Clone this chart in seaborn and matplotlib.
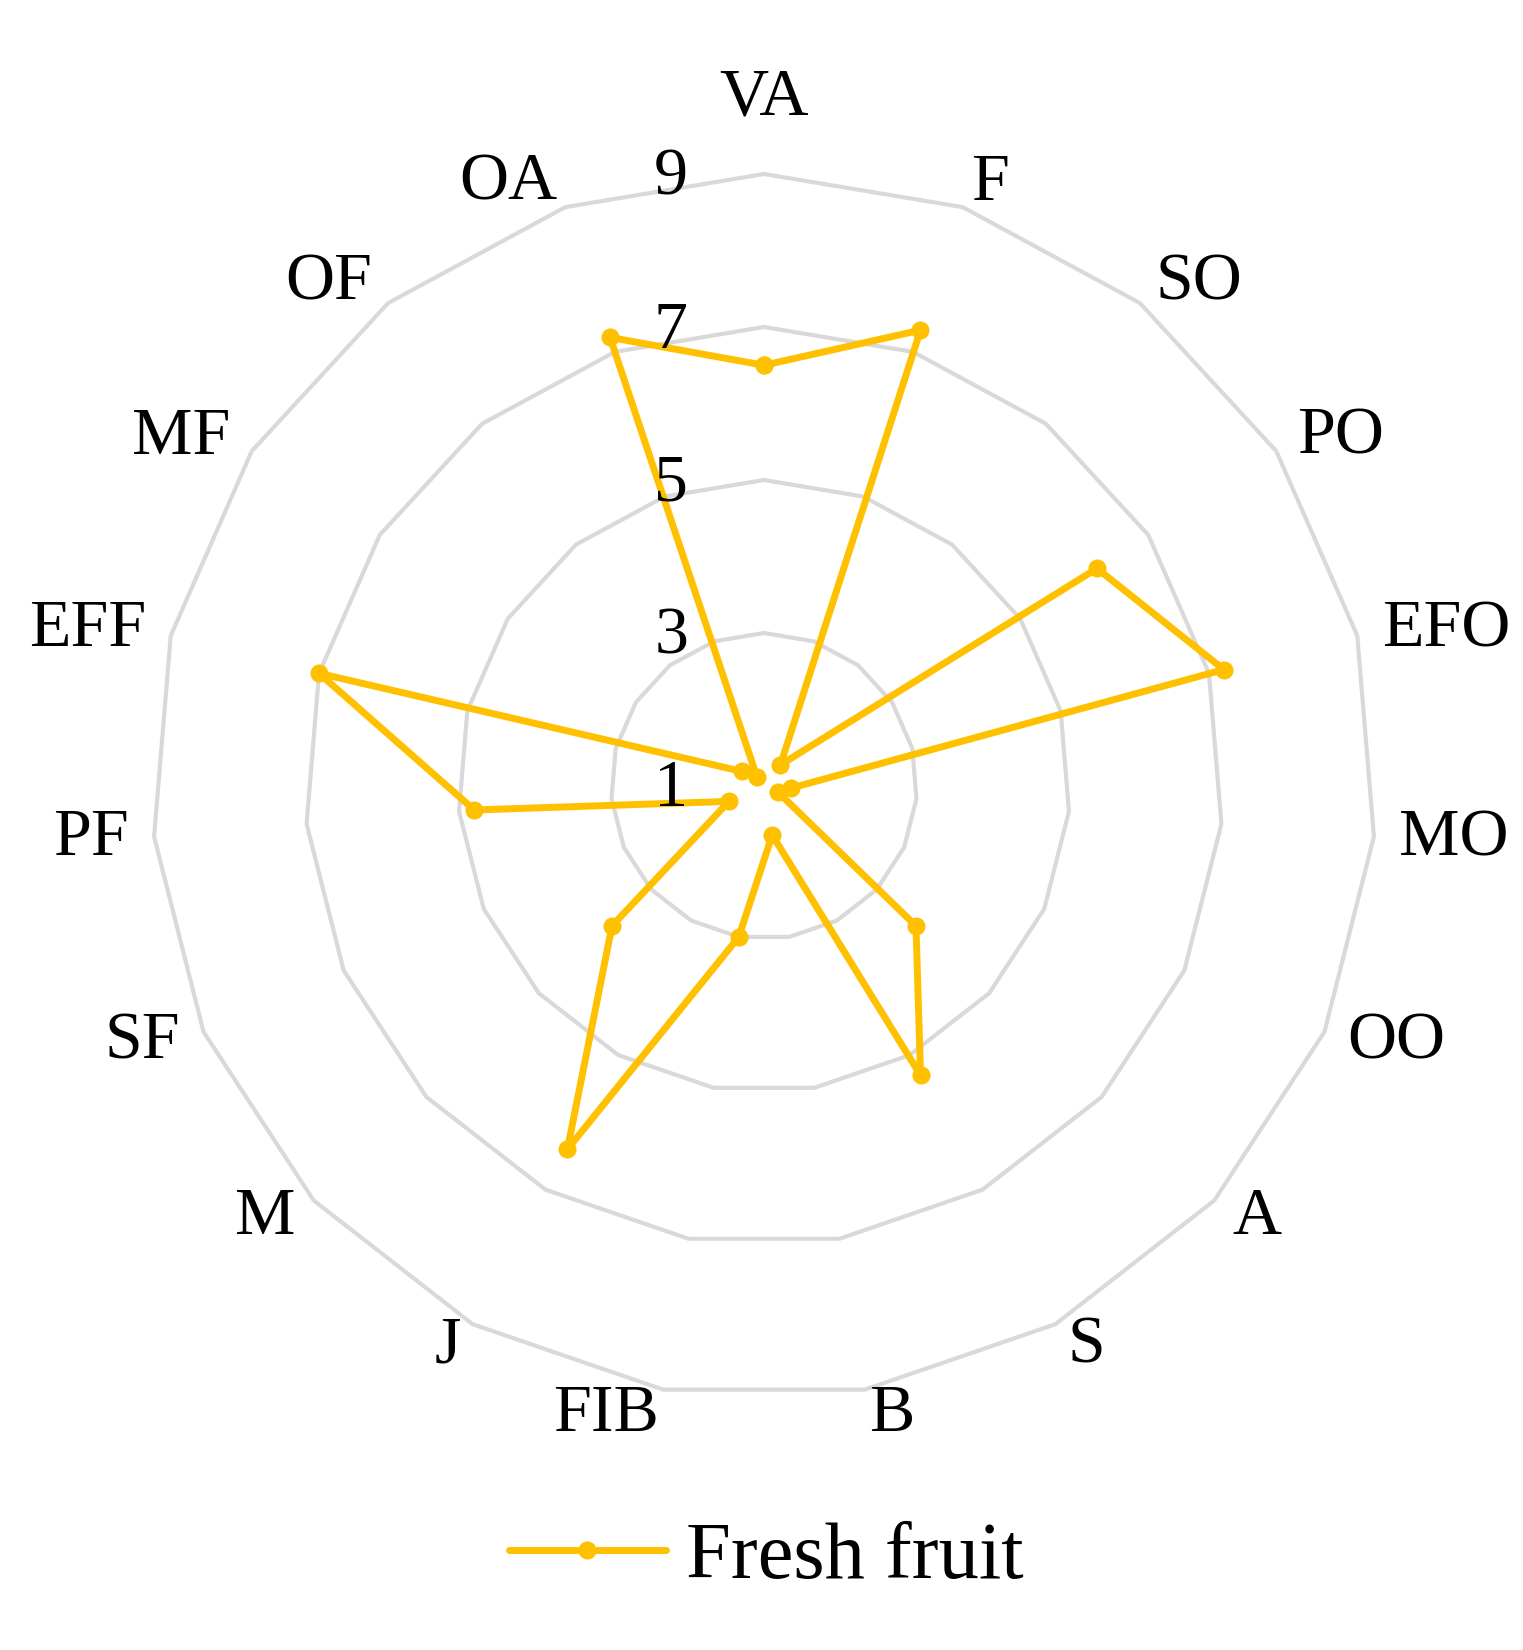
import numpy as np
import pandas as pd
import matplotlib
matplotlib.use("Agg")
import matplotlib.pyplot as plt
import matplotlib.transforms as mtransforms
from matplotlib.lines import Line2D
import seaborn as sns

categories = ["VA", "F", "SO", "PO", "EFO", "MO", "OO", "A", "S", "B",
              "FIB", "J", "M", "SF", "PF", "EFF", "MF", "OF", "OA"]
fresh_fruit = [6.5, 7.3, 1.35, 6.2, 7.2, 1.35, 1.2, 3.7, 5.3, 1.65,
               3.0, 6.4, 3.7, 1.5, 4.8, 7.0, 1.35, 1.15, 7.2]
ring_levels = [3, 5, 7, 9]
tick_labels = ["1", "3", "5", "7", "9"]
tick_values = [1, 3, 5, 7, 9]
series_name = "Fresh fruit"

sns.set_style("white")
plt.rcParams["font.family"] = ["Liberation Serif", "DejaVu Serif"]
plt.rcParams["text.color"] = "black"

W, H = 1523, 1650
fig = plt.figure(figsize=(W / 100, H / 100), dpi=100)
fig.patch.set_facecolor("white")

cx, cy, rad = 764, 786, 612
ax = fig.add_axes([(cx - rad) / W, (H - cy - rad) / H, 2 * rad / W, 2 * rad / H],
                  projection="polar")
ax.set_theta_offset(np.pi / 2)
ax.set_theta_direction(-1)
ax.set_ylim(1, 9)
ax.grid(False)
ax.set_xticks([])
ax.set_yticks([])
ax.spines["polar"].set_visible(False)
ax.set_facecolor("none")

n = len(categories)
theta = 2 * np.pi * np.arange(n) / n
theta_closed = np.append(theta, 2 * np.pi)

for lv in ring_levels:
    ax.plot(theta_closed, [lv] * (n + 1), color="#d9d9d9", lw=3,
            clip_on=False, zorder=1)

df = pd.DataFrame({"theta": theta_closed,
                   "value": fresh_fruit + [fresh_fruit[0]]})
sns.lineplot(data=df, x="theta", y="value", sort=False, estimator=None, ax=ax,
             color="#FFC000", lw=5, marker="o", markersize=13,
             markeredgewidth=0, zorder=3)
for l in ax.lines:
    l.set_clip_on(False)
ax.set_xlabel("")
ax.set_ylabel("")
ax.set_ylim(1, 9)

# radial tick labels
tt = mtransforms.offset_copy(ax.transData, fig=fig, x=-76, y=-4, units="dots")
for tv, tl in zip(tick_values, tick_labels):
    ax.text(0, tv, tl, transform=tt, ha="right", va="center",
            fontsize=49, color="black", clip_on=False)

# category labels
R = 9.33
for i, lab in enumerate(categories):
    phi = np.pi / 2 - theta[i]
    c = np.cos(phi)
    if abs(c) < 0.05:
        ha = "center"
        va = "bottom" if np.sin(phi) > 0 else "top"
        r = 9.6
    else:
        ha = "left" if c > 0 else "right"
        va = "center"
        r = R
    ax.text(theta[i], r, lab, ha=ha, va=va, fontsize=49, color="black",
            clip_on=False)

handle = Line2D([], [], color="#FFC000", lw=5, marker="o", markersize=13,
                markeredgewidth=0)
leg = fig.legend([handle], [series_name], loc="center",
                 bbox_to_anchor=(766 / W, 92 / H),
                 frameon=False, fontsize=58, handlelength=1.95, handletextpad=0.25)
for t in leg.get_texts():
    t.set_color("black")

fig.savefig("out.png", dpi=100, facecolor="white")
